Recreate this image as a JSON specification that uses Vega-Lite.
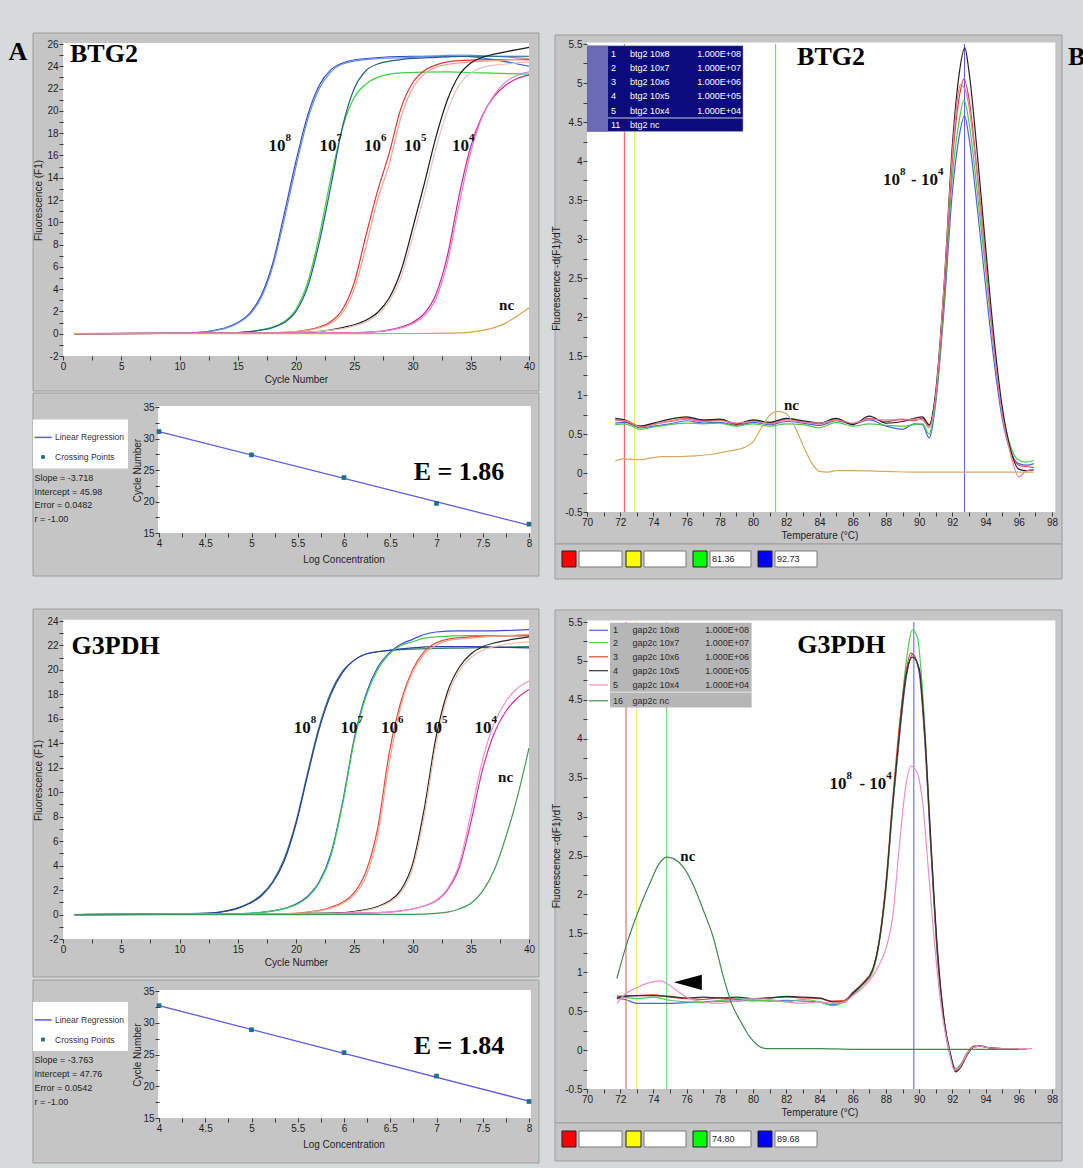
{
"$schema": "https://vega.github.io/schema/vega-lite/v6.json",
"background": "#d6dadb",
"padding": 0,
"autosize": {"type": "pad"},
"spacing": 0,
"resolve": {"scale": {"color": "independent"}},
"config": {
 "view": {"stroke": null},
 "concat": {"spacing": 0},
 "axis": {"domain": false, "grid": false, "labelFont": "Liberation Sans Narrow, Arial Narrow, Liberation Sans, sans-serif", "labelFontSize": 10, "labelColor": "#1e1e1e", "titleFont": "Liberation Sans Narrow, Arial Narrow, Liberation Sans, sans-serif", "titleFontSize": 10, "titleFontWeight": "normal", "titleColor": "#1e1e1e", "tickColor": "#3a3a3a", "tickSize": 4, "labelPadding": 1, "titlePadding": 3, "labelOverlap": false, "labelFlush": false, "tickCount": 100}
},
"datasets": {
 "a1": [
  {"s":"8a","x":1,"y":0},{"s":"8a","x":5,"y":0.02},{"s":"8a","x":10,"y":0.05},{"s":"8a","x":12,"y":0.15},{"s":"8a","x":13,"y":0.3},{"s":"8a","x":14,"y":0.55},{"s":"8a","x":15,"y":1.0},{"s":"8a","x":16,"y":1.8},{"s":"8a","x":17,"y":3.4},{"s":"8a","x":18,"y":6.3},{"s":"8a","x":19,"y":10.8},{"s":"8a","x":20,"y":15.5},{"s":"8a","x":21,"y":19.6},{"s":"8a","x":22,"y":22.3},{"s":"8a","x":23,"y":23.7},{"s":"8a","x":24,"y":24.3},{"s":"8a","x":26,"y":24.7},{"s":"8a","x":30,"y":24.9},{"s":"8a","x":34,"y":24.9},{"s":"8a","x":37,"y":24.6},{"s":"8a","x":40,"y":24.0},
  {"s":"8b","x":1,"y":0},{"s":"8b","x":10,"y":0.05},{"s":"8b","x":12,"y":0.14},{"s":"8b","x":13,"y":0.28},{"s":"8b","x":14,"y":0.5},{"s":"8b","x":15,"y":0.95},{"s":"8b","x":16,"y":1.7},{"s":"8b","x":17,"y":3.2},{"s":"8b","x":18,"y":6.0},{"s":"8b","x":19,"y":10.3},{"s":"8b","x":20,"y":15.0},{"s":"8b","x":21,"y":19.2},{"s":"8b","x":22,"y":22.0},{"s":"8b","x":23,"y":23.5},{"s":"8b","x":24,"y":24.2},{"s":"8b","x":26,"y":24.6},{"s":"8b","x":30,"y":24.8},{"s":"8b","x":34,"y":25.0},{"s":"8b","x":37,"y":24.9},{"s":"8b","x":40,"y":24.7},
  {"s":"7a","x":1,"y":0},{"s":"7a","x":8,"y":0.02},{"s":"7a","x":12,"y":0.05},{"s":"7a","x":15,"y":0.1},{"s":"7a","x":16,"y":0.2},{"s":"7a","x":17,"y":0.35},{"s":"7a","x":18,"y":0.6},{"s":"7a","x":19,"y":1.1},{"s":"7a","x":20,"y":2.2},{"s":"7a","x":21,"y":4.6},{"s":"7a","x":22,"y":8.8},{"s":"7a","x":23,"y":14.0},{"s":"7a","x":24,"y":18.5},{"s":"7a","x":25,"y":21.2},{"s":"7a","x":26,"y":22.4},{"s":"7a","x":27,"y":23.0},{"s":"7a","x":29,"y":23.4},{"s":"7a","x":33,"y":23.5},{"s":"7a","x":36,"y":23.4},{"s":"7a","x":40,"y":23.3},
  {"s":"7b","x":1,"y":0},{"s":"7b","x":8,"y":0.02},{"s":"7b","x":12,"y":0.05},{"s":"7b","x":15,"y":0.1},{"s":"7b","x":16,"y":0.18},{"s":"7b","x":17,"y":0.32},{"s":"7b","x":18,"y":0.55},{"s":"7b","x":19,"y":1.0},{"s":"7b","x":20,"y":2.0},{"s":"7b","x":21,"y":4.2},{"s":"7b","x":22,"y":8.2},{"s":"7b","x":23,"y":13.3},{"s":"7b","x":24,"y":18.6},{"s":"7b","x":25,"y":22.0},{"s":"7b","x":26,"y":23.6},{"s":"7b","x":27,"y":24.2},{"s":"7b","x":29,"y":24.6},{"s":"7b","x":32,"y":24.8},{"s":"7b","x":36,"y":24.9},{"s":"7b","x":40,"y":24.9},
  {"s":"6a","x":1,"y":0},{"s":"6a","x":6,"y":0.03},{"s":"6a","x":12,"y":0.05},{"s":"6a","x":18,"y":0.1},{"s":"6a","x":20,"y":0.2},{"s":"6a","x":21,"y":0.35},{"s":"6a","x":22,"y":0.6},{"s":"6a","x":23,"y":1.1},{"s":"6a","x":24,"y":2.2},{"s":"6a","x":25,"y":4.6},{"s":"6a","x":26,"y":8.8},{"s":"6a","x":27,"y":12.8},{"s":"6a","x":28,"y":16.2},{"s":"6a","x":29,"y":20.2},{"s":"6a","x":30,"y":22.5},{"s":"6a","x":31,"y":23.6},{"s":"6a","x":32,"y":24.1},{"s":"6a","x":34,"y":24.5},{"s":"6a","x":37,"y":24.6},{"s":"6a","x":40,"y":24.6},
  {"s":"6b","x":1,"y":0},{"s":"6b","x":12,"y":0.05},{"s":"6b","x":18,"y":0.1},{"s":"6b","x":20,"y":0.18},{"s":"6b","x":21,"y":0.3},{"s":"6b","x":22,"y":0.52},{"s":"6b","x":23,"y":0.95},{"s":"6b","x":24,"y":1.9},{"s":"6b","x":25,"y":4.0},{"s":"6b","x":26,"y":7.8},{"s":"6b","x":27,"y":12.0},{"s":"6b","x":28,"y":15.2},{"s":"6b","x":29,"y":19.4},{"s":"6b","x":30,"y":22.0},{"s":"6b","x":31,"y":23.3},{"s":"6b","x":32,"y":23.9},{"s":"6b","x":34,"y":24.3},{"s":"6b","x":37,"y":24.5},{"s":"6b","x":40,"y":24.7},
  {"s":"5a","x":1,"y":0},{"s":"5a","x":12,"y":0.05},{"s":"5a","x":20,"y":0.1},{"s":"5a","x":23,"y":0.35},{"s":"5a","x":24,"y":0.55},{"s":"5a","x":25,"y":0.8},{"s":"5a","x":26,"y":1.2},{"s":"5a","x":27,"y":1.9},{"s":"5a","x":28,"y":3.2},{"s":"5a","x":29,"y":5.6},{"s":"5a","x":30,"y":9.4},{"s":"5a","x":31,"y":13.4},{"s":"5a","x":32,"y":17.6},{"s":"5a","x":33,"y":21.0},{"s":"5a","x":34,"y":23.2},{"s":"5a","x":35,"y":24.3},{"s":"5a","x":36,"y":24.8},{"s":"5a","x":38,"y":25.3},{"s":"5a","x":40,"y":25.7},
  {"s":"5b","x":1,"y":0},{"s":"5b","x":20,"y":0.1},{"s":"5b","x":24,"y":0.45},{"s":"5b","x":25,"y":0.7},{"s":"5b","x":26,"y":1.05},{"s":"5b","x":27,"y":1.7},{"s":"5b","x":28,"y":2.9},{"s":"5b","x":29,"y":5.0},{"s":"5b","x":30,"y":8.6},{"s":"5b","x":31,"y":12.4},{"s":"5b","x":32,"y":16.6},{"s":"5b","x":33,"y":20.0},{"s":"5b","x":34,"y":22.3},{"s":"5b","x":35,"y":23.4},{"s":"5b","x":36,"y":23.9},{"s":"5b","x":38,"y":24.2},{"s":"5b","x":40,"y":24.4},
  {"s":"4a","x":1,"y":0},{"s":"4a","x":20,"y":0.05},{"s":"4a","x":25,"y":0.1},{"s":"4a","x":27,"y":0.2},{"s":"4a","x":28,"y":0.35},{"s":"4a","x":29,"y":0.6},{"s":"4a","x":30,"y":1.0},{"s":"4a","x":31,"y":1.8},{"s":"4a","x":32,"y":3.5},{"s":"4a","x":33,"y":7.0},{"s":"4a","x":34,"y":12.4},{"s":"4a","x":35,"y":16.8},{"s":"4a","x":36,"y":19.6},{"s":"4a","x":37,"y":21.3},{"s":"4a","x":38,"y":22.3},{"s":"4a","x":39,"y":22.9},{"s":"4a","x":40,"y":23.2},
  {"s":"4b","x":1,"y":0},{"s":"4b","x":20,"y":0.05},{"s":"4b","x":25,"y":0.1},{"s":"4b","x":27,"y":0.18},{"s":"4b","x":28,"y":0.3},{"s":"4b","x":29,"y":0.52},{"s":"4b","x":30,"y":0.9},{"s":"4b","x":31,"y":1.6},{"s":"4b","x":32,"y":3.1},{"s":"4b","x":33,"y":6.4},{"s":"4b","x":34,"y":11.6},{"s":"4b","x":35,"y":16.3},{"s":"4b","x":36,"y":19.5},{"s":"4b","x":37,"y":21.4},{"s":"4b","x":38,"y":22.6},{"s":"4b","x":39,"y":23.2},{"s":"4b","x":40,"y":23.5},
  {"s":"nc","x":1,"y":0},{"s":"nc","x":10,"y":0},{"s":"nc","x":20,"y":0},{"s":"nc","x":30,"y":0.02},{"s":"nc","x":33,"y":0.05},{"s":"nc","x":35,"y":0.15},{"s":"nc","x":36,"y":0.3},{"s":"nc","x":37,"y":0.55},{"s":"nc","x":38,"y":0.95},{"s":"nc","x":39,"y":1.6},{"s":"nc","x":40,"y":2.3}
 ],
 "a2": [
  {"s":"8a","x":1,"y":0},{"s":"8a","x":10,"y":0.05},{"s":"8a","x":13,"y":0.15},{"s":"8a","x":14,"y":0.3},{"s":"8a","x":15,"y":0.55},{"s":"8a","x":16,"y":0.95},{"s":"8a","x":17,"y":1.6},{"s":"8a","x":18,"y":2.7},{"s":"8a","x":19,"y":4.6},{"s":"8a","x":20,"y":7.6},{"s":"8a","x":21,"y":11.6},{"s":"8a","x":22,"y":15.4},{"s":"8a","x":23,"y":18.2},{"s":"8a","x":24,"y":19.9},{"s":"8a","x":25,"y":20.8},{"s":"8a","x":26,"y":21.3},{"s":"8a","x":28,"y":21.6},{"s":"8a","x":30,"y":21.7},{"s":"8a","x":35,"y":21.8},{"s":"8a","x":40,"y":21.9},
  {"s":"8b","x":1,"y":0},{"s":"8b","x":10,"y":0.04},{"s":"8b","x":13,"y":0.13},{"s":"8b","x":14,"y":0.28},{"s":"8b","x":15,"y":0.5},{"s":"8b","x":16,"y":0.9},{"s":"8b","x":17,"y":1.5},{"s":"8b","x":18,"y":2.6},{"s":"8b","x":19,"y":4.4},{"s":"8b","x":20,"y":7.4},{"s":"8b","x":21,"y":11.4},{"s":"8b","x":22,"y":15.2},{"s":"8b","x":23,"y":18.0},{"s":"8b","x":24,"y":19.8},{"s":"8b","x":25,"y":20.8},{"s":"8b","x":26,"y":21.3},{"s":"8b","x":28,"y":21.6},{"s":"8b","x":30,"y":21.8},{"s":"8b","x":32,"y":21.9},{"s":"8b","x":35,"y":21.9},{"s":"8b","x":40,"y":21.8},
  {"s":"7a","x":1,"y":0},{"s":"7a","x":12,"y":0.05},{"s":"7a","x":16,"y":0.1},{"s":"7a","x":17,"y":0.18},{"s":"7a","x":18,"y":0.3},{"s":"7a","x":19,"y":0.5},{"s":"7a","x":20,"y":0.85},{"s":"7a","x":21,"y":1.5},{"s":"7a","x":22,"y":2.7},{"s":"7a","x":23,"y":5.0},{"s":"7a","x":24,"y":9.2},{"s":"7a","x":25,"y":14.4},{"s":"7a","x":26,"y":18.0},{"s":"7a","x":27,"y":20.2},{"s":"7a","x":28,"y":21.4},{"s":"7a","x":29,"y":22.1},{"s":"7a","x":30,"y":22.5},{"s":"7a","x":31,"y":22.9},{"s":"7a","x":32,"y":23.1},{"s":"7a","x":34,"y":23.2},{"s":"7a","x":37,"y":23.2},{"s":"7a","x":40,"y":23.3},
  {"s":"7b","x":1,"y":0},{"s":"7b","x":12,"y":0.05},{"s":"7b","x":16,"y":0.1},{"s":"7b","x":17,"y":0.17},{"s":"7b","x":18,"y":0.28},{"s":"7b","x":19,"y":0.48},{"s":"7b","x":20,"y":0.8},{"s":"7b","x":21,"y":1.4},{"s":"7b","x":22,"y":2.6},{"s":"7b","x":23,"y":4.8},{"s":"7b","x":24,"y":9.0},{"s":"7b","x":25,"y":14.2},{"s":"7b","x":26,"y":17.8},{"s":"7b","x":27,"y":20.0},{"s":"7b","x":28,"y":21.3},{"s":"7b","x":29,"y":22.0},{"s":"7b","x":30,"y":22.3},{"s":"7b","x":31,"y":22.6},{"s":"7b","x":32,"y":22.7},{"s":"7b","x":35,"y":22.8},{"s":"7b","x":40,"y":22.8},
  {"s":"6a","x":1,"y":0},{"s":"6a","x":15,"y":0.05},{"s":"6a","x":20,"y":0.1},{"s":"6a","x":21,"y":0.2},{"s":"6a","x":22,"y":0.35},{"s":"6a","x":23,"y":0.6},{"s":"6a","x":24,"y":1.0},{"s":"6a","x":25,"y":1.8},{"s":"6a","x":26,"y":3.5},{"s":"6a","x":27,"y":7.0},{"s":"6a","x":28,"y":13.2},{"s":"6a","x":29,"y":17.4},{"s":"6a","x":30,"y":20.0},{"s":"6a","x":31,"y":21.5},{"s":"6a","x":32,"y":22.2},{"s":"6a","x":33,"y":22.5},{"s":"6a","x":35,"y":22.7},{"s":"6a","x":40,"y":22.8},
  {"s":"6b","x":1,"y":0},{"s":"6b","x":15,"y":0.05},{"s":"6b","x":20,"y":0.1},{"s":"6b","x":21,"y":0.18},{"s":"6b","x":22,"y":0.3},{"s":"6b","x":23,"y":0.52},{"s":"6b","x":24,"y":0.9},{"s":"6b","x":25,"y":1.6},{"s":"6b","x":26,"y":3.1},{"s":"6b","x":27,"y":6.4},{"s":"6b","x":28,"y":12.4},{"s":"6b","x":29,"y":17.0},{"s":"6b","x":30,"y":19.8},{"s":"6b","x":31,"y":21.3},{"s":"6b","x":32,"y":22.0},{"s":"6b","x":33,"y":22.4},{"s":"6b","x":35,"y":22.6},{"s":"6b","x":40,"y":22.9},
  {"s":"5a","x":1,"y":0},{"s":"5a","x":18,"y":0.05},{"s":"5a","x":24,"y":0.15},{"s":"5a","x":25,"y":0.25},{"s":"5a","x":26,"y":0.4},{"s":"5a","x":27,"y":0.65},{"s":"5a","x":28,"y":1.1},{"s":"5a","x":29,"y":2.0},{"s":"5a","x":30,"y":4.1},{"s":"5a","x":31,"y":8.6},{"s":"5a","x":32,"y":14.4},{"s":"5a","x":33,"y":18.2},{"s":"5a","x":34,"y":20.2},{"s":"5a","x":35,"y":21.3},{"s":"5a","x":36,"y":21.9},{"s":"5a","x":37,"y":22.2},{"s":"5a","x":38,"y":22.4},{"s":"5a","x":40,"y":22.7},
  {"s":"5b","x":1,"y":0},{"s":"5b","x":18,"y":0.05},{"s":"5b","x":24,"y":0.12},{"s":"5b","x":25,"y":0.2},{"s":"5b","x":26,"y":0.35},{"s":"5b","x":27,"y":0.58},{"s":"5b","x":28,"y":1.0},{"s":"5b","x":29,"y":1.8},{"s":"5b","x":30,"y":3.7},{"s":"5b","x":31,"y":8.0},{"s":"5b","x":32,"y":13.8},{"s":"5b","x":33,"y":17.8},{"s":"5b","x":34,"y":19.9},{"s":"5b","x":35,"y":21.0},{"s":"5b","x":36,"y":21.6},{"s":"5b","x":37,"y":21.9},{"s":"5b","x":38,"y":22.1},{"s":"5b","x":40,"y":22.3},
  {"s":"4a","x":1,"y":0},{"s":"4a","x":20,"y":0.05},{"s":"4a","x":27,"y":0.15},{"s":"4a","x":29,"y":0.3},{"s":"4a","x":30,"y":0.45},{"s":"4a","x":31,"y":0.7},{"s":"4a","x":32,"y":1.1},{"s":"4a","x":33,"y":2.0},{"s":"4a","x":34,"y":3.8},{"s":"4a","x":35,"y":7.5},{"s":"4a","x":36,"y":11.8},{"s":"4a","x":37,"y":14.8},{"s":"4a","x":38,"y":16.6},{"s":"4a","x":39,"y":17.7},{"s":"4a","x":40,"y":18.4},
  {"s":"4b","x":1,"y":0},{"s":"4b","x":20,"y":0.05},{"s":"4b","x":27,"y":0.15},{"s":"4b","x":29,"y":0.3},{"s":"4b","x":30,"y":0.45},{"s":"4b","x":31,"y":0.72},{"s":"4b","x":32,"y":1.15},{"s":"4b","x":33,"y":2.1},{"s":"4b","x":34,"y":4.1},{"s":"4b","x":35,"y":8.2},{"s":"4b","x":36,"y":12.6},{"s":"4b","x":37,"y":15.6},{"s":"4b","x":38,"y":17.4},{"s":"4b","x":39,"y":18.5},{"s":"4b","x":40,"y":19.1},
  {"s":"nc","x":1,"y":0},{"s":"nc","x":20,"y":0},{"s":"nc","x":30,"y":0.02},{"s":"nc","x":32,"y":0.1},{"s":"nc","x":33,"y":0.2},{"s":"nc","x":34,"y":0.45},{"s":"nc","x":35,"y":0.9},{"s":"nc","x":36,"y":1.9},{"s":"nc","x":37,"y":3.6},{"s":"nc","x":38,"y":6.3},{"s":"nc","x":39,"y":9.6},{"s":"nc","x":40,"y":13.6}
 ],
 "m1": [
  {"s":"1","x":71.7,"y":0.64},{"s":"1","x":72.3,"y":0.65},{"s":"1","x":73.2,"y":0.58},{"s":"1","x":74,"y":0.6},{"s":"1","x":75,"y":0.63},{"s":"1","x":76,"y":0.67},{"s":"1","x":77,"y":0.64},{"s":"1","x":78,"y":0.65},{"s":"1","x":79,"y":0.61},{"s":"1","x":80,"y":0.65},{"s":"1","x":81,"y":0.62},{"s":"1","x":82,"y":0.66},{"s":"1","x":83,"y":0.64},{"s":"1","x":84,"y":0.61},{"s":"1","x":85,"y":0.67},{"s":"1","x":86,"y":0.63},{"s":"1","x":87,"y":0.68},{"s":"1","x":88,"y":0.6},{"s":"1","x":89,"y":0.56},{"s":"1","x":89.7,"y":0.63},{"s":"1","x":90.2,"y":0.62},{"s":"1","x":90.6,"y":0.45},{"s":"1","x":91,"y":0.9},{"s":"1","x":91.5,"y":2.1},{"s":"1","x":92,"y":3.6},{"s":"1","x":92.4,"y":4.3},{"s":"1","x":92.73,"y":4.58},{"s":"1","x":93,"y":4.3},{"s":"1","x":93.5,"y":3.4},{"s":"1","x":94,"y":2.4},{"s":"1","x":94.5,"y":1.45},{"s":"1","x":95,"y":0.7},{"s":"1","x":95.5,"y":0.28},{"s":"1","x":96,"y":0.12},{"s":"1","x":96.5,"y":0.1},{"s":"1","x":96.9,"y":0.12},
  {"s":"2","x":71.7,"y":0.62},{"s":"2","x":72.3,"y":0.63},{"s":"2","x":73.2,"y":0.56},{"s":"2","x":74,"y":0.59},{"s":"2","x":75,"y":0.62},{"s":"2","x":76,"y":0.64},{"s":"2","x":77,"y":0.63},{"s":"2","x":78,"y":0.64},{"s":"2","x":79,"y":0.6},{"s":"2","x":80,"y":0.63},{"s":"2","x":81,"y":0.6},{"s":"2","x":82,"y":0.63},{"s":"2","x":83,"y":0.62},{"s":"2","x":84,"y":0.58},{"s":"2","x":85,"y":0.65},{"s":"2","x":86,"y":0.6},{"s":"2","x":87,"y":0.63},{"s":"2","x":88,"y":0.61},{"s":"2","x":89,"y":0.6},{"s":"2","x":89.7,"y":0.62},{"s":"2","x":90.2,"y":0.63},{"s":"2","x":90.6,"y":0.5},{"s":"2","x":91,"y":0.95},{"s":"2","x":91.5,"y":2.2},{"s":"2","x":92,"y":3.8},{"s":"2","x":92.4,"y":4.5},{"s":"2","x":92.7,"y":4.78},{"s":"2","x":93,"y":4.5},{"s":"2","x":93.5,"y":3.6},{"s":"2","x":94,"y":2.6},{"s":"2","x":94.5,"y":1.6},{"s":"2","x":95,"y":0.8},{"s":"2","x":95.5,"y":0.35},{"s":"2","x":95.9,"y":0.18},{"s":"2","x":96.4,"y":0.14},{"s":"2","x":96.9,"y":0.16},
  {"s":"3","x":71.7,"y":0.68},{"s":"3","x":72.3,"y":0.66},{"s":"3","x":73.2,"y":0.6},{"s":"3","x":74,"y":0.63},{"s":"3","x":75,"y":0.66},{"s":"3","x":76,"y":0.7},{"s":"3","x":77,"y":0.67},{"s":"3","x":78,"y":0.68},{"s":"3","x":79,"y":0.62},{"s":"3","x":80,"y":0.67},{"s":"3","x":81,"y":0.64},{"s":"3","x":82,"y":0.69},{"s":"3","x":83,"y":0.66},{"s":"3","x":84,"y":0.63},{"s":"3","x":85,"y":0.69},{"s":"3","x":86,"y":0.63},{"s":"3","x":87,"y":0.7},{"s":"3","x":88,"y":0.66},{"s":"3","x":89,"y":0.69},{"s":"3","x":89.7,"y":0.67},{"s":"3","x":90.2,"y":0.7},{"s":"3","x":90.6,"y":0.6},{"s":"3","x":91,"y":1.0},{"s":"3","x":91.5,"y":2.3},{"s":"3","x":92,"y":4.0},{"s":"3","x":92.4,"y":4.8},{"s":"3","x":92.7,"y":5.05},{"s":"3","x":93,"y":4.8},{"s":"3","x":93.5,"y":3.85},{"s":"3","x":94,"y":2.75},{"s":"3","x":94.5,"y":1.65},{"s":"3","x":95,"y":0.8},{"s":"3","x":95.5,"y":0.3},{"s":"3","x":96,"y":0.1},{"s":"3","x":96.5,"y":0.08},{"s":"3","x":96.9,"y":0.07},
  {"s":"4","x":71.7,"y":0.7},{"s":"4","x":72.3,"y":0.68},{"s":"4","x":73.2,"y":0.6},{"s":"4","x":74,"y":0.64},{"s":"4","x":75,"y":0.69},{"s":"4","x":76,"y":0.72},{"s":"4","x":77,"y":0.68},{"s":"4","x":78,"y":0.69},{"s":"4","x":79,"y":0.63},{"s":"4","x":80,"y":0.68},{"s":"4","x":81,"y":0.65},{"s":"4","x":82,"y":0.7},{"s":"4","x":83,"y":0.67},{"s":"4","x":84,"y":0.64},{"s":"4","x":85,"y":0.7},{"s":"4","x":86,"y":0.62},{"s":"4","x":87,"y":0.73},{"s":"4","x":88,"y":0.64},{"s":"4","x":89,"y":0.66},{"s":"4","x":89.7,"y":0.7},{"s":"4","x":90.2,"y":0.72},{"s":"4","x":90.6,"y":0.62},{"s":"4","x":91,"y":1.05},{"s":"4","x":91.5,"y":2.4},{"s":"4","x":92,"y":4.2},{"s":"4","x":92.4,"y":5.1},{"s":"4","x":92.75,"y":5.45},{"s":"4","x":93,"y":5.15},{"s":"4","x":93.5,"y":4.1},{"s":"4","x":94,"y":2.9},{"s":"4","x":94.5,"y":1.75},{"s":"4","x":95,"y":0.85},{"s":"4","x":95.5,"y":0.3},{"s":"4","x":96,"y":0.05},{"s":"4","x":96.5,"y":0.03},{"s":"4","x":96.9,"y":0.04},
  {"s":"5","x":71.7,"y":0.67},{"s":"5","x":72.3,"y":0.67},{"s":"5","x":73.2,"y":0.59},{"s":"5","x":74,"y":0.62},{"s":"5","x":75,"y":0.67},{"s":"5","x":76,"y":0.69},{"s":"5","x":77,"y":0.66},{"s":"5","x":78,"y":0.67},{"s":"5","x":79,"y":0.64},{"s":"5","x":80,"y":0.66},{"s":"5","x":81,"y":0.63},{"s":"5","x":82,"y":0.68},{"s":"5","x":83,"y":0.65},{"s":"5","x":84,"y":0.64},{"s":"5","x":85,"y":0.68},{"s":"5","x":86,"y":0.64},{"s":"5","x":87,"y":0.69},{"s":"5","x":88,"y":0.68},{"s":"5","x":89,"y":0.68},{"s":"5","x":89.7,"y":0.69},{"s":"5","x":90.2,"y":0.68},{"s":"5","x":90.6,"y":0.58},{"s":"5","x":91,"y":1.0},{"s":"5","x":91.5,"y":2.4},{"s":"5","x":92,"y":4.1},{"s":"5","x":92.5,"y":4.98},{"s":"5","x":92.8,"y":4.9},{"s":"5","x":93,"y":4.7},{"s":"5","x":93.5,"y":3.8},{"s":"5","x":94,"y":2.7},{"s":"5","x":94.5,"y":1.6},{"s":"5","x":95,"y":0.75},{"s":"5","x":95.5,"y":0.25},{"s":"5","x":96,"y":-0.05},{"s":"5","x":96.4,"y":0.02},{"s":"5","x":96.9,"y":0.05},
  {"s":"11","x":71.7,"y":0.15},{"s":"11","x":72.2,"y":0.18},{"s":"11","x":73.2,"y":0.17},{"s":"11","x":73.8,"y":0.19},{"s":"11","x":74.5,"y":0.21},{"s":"11","x":75.5,"y":0.21},{"s":"11","x":76.5,"y":0.22},{"s":"11","x":77.5,"y":0.24},{"s":"11","x":78.5,"y":0.28},{"s":"11","x":79.5,"y":0.33},{"s":"11","x":80,"y":0.4},{"s":"11","x":80.5,"y":0.58},{"s":"11","x":81,"y":0.74},{"s":"11","x":81.5,"y":0.79},{"s":"11","x":82,"y":0.76},{"s":"11","x":82.5,"y":0.6},{"s":"11","x":83,"y":0.36},{"s":"11","x":83.5,"y":0.14},{"s":"11","x":84,"y":0.02},{"s":"11","x":84.5,"y":0.01},{"s":"11","x":85,"y":0.03},{"s":"11","x":86,"y":0.03},{"s":"11","x":88,"y":0.02},{"s":"11","x":90,"y":0.01},{"s":"11","x":93,"y":0.01},{"s":"11","x":96,"y":0.01},{"s":"11","x":96.9,"y":0.01}
 ],
 "m2": [
  {"s":"1","x":71.8,"y":0.66},{"s":"1","x":72.3,"y":0.65},{"s":"1","x":73,"y":0.6},{"s":"1","x":74,"y":0.6},{"s":"1","x":75,"y":0.6},{"s":"1","x":76,"y":0.61},{"s":"1","x":77,"y":0.62},{"s":"1","x":78,"y":0.63},{"s":"1","x":79,"y":0.63},{"s":"1","x":80,"y":0.64},{"s":"1","x":81,"y":0.63},{"s":"1","x":82,"y":0.64},{"s":"1","x":83,"y":0.63},{"s":"1","x":84,"y":0.62},{"s":"1","x":84.8,"y":0.58},{"s":"1","x":85.5,"y":0.63},{"s":"1","x":86,"y":0.72},{"s":"1","x":86.6,"y":0.84},{"s":"1","x":87.2,"y":1.02},{"s":"1","x":87.6,"y":1.4},{"s":"1","x":88,"y":2.1},{"s":"1","x":88.4,"y":3.1},{"s":"1","x":88.85,"y":4.1},{"s":"1","x":89.2,"y":4.75},{"s":"1","x":89.6,"y":5.08},{"s":"1","x":90,"y":4.85},{"s":"1","x":90.3,"y":4.1},{"s":"1","x":90.7,"y":2.6},{"s":"1","x":91.1,"y":1.2},{"s":"1","x":91.5,"y":0.35},{"s":"1","x":91.9,"y":-0.1},{"s":"1","x":92.2,"y":-0.25},{"s":"1","x":92.5,"y":-0.2},{"s":"1","x":92.9,"y":-0.05},{"s":"1","x":93.3,"y":0.04},{"s":"1","x":93.7,"y":0.05},{"s":"1","x":94.2,"y":0.03},{"s":"1","x":95,"y":0.02},{"s":"1","x":96,"y":0.02},{"s":"1","x":96.5,"y":0.02},
  {"s":"2","x":71.8,"y":0.7},{"s":"2","x":72.3,"y":0.68},{"s":"2","x":73,"y":0.66},{"s":"2","x":74,"y":0.68},{"s":"2","x":75,"y":0.64},{"s":"2","x":76,"y":0.62},{"s":"2","x":77,"y":0.61},{"s":"2","x":78,"y":0.64},{"s":"2","x":79,"y":0.66},{"s":"2","x":80,"y":0.63},{"s":"2","x":81,"y":0.64},{"s":"2","x":82,"y":0.62},{"s":"2","x":83,"y":0.65},{"s":"2","x":84,"y":0.62},{"s":"2","x":84.8,"y":0.57},{"s":"2","x":85.5,"y":0.62},{"s":"2","x":86,"y":0.7},{"s":"2","x":86.6,"y":0.83},{"s":"2","x":87.2,"y":1.0},{"s":"2","x":87.6,"y":1.38},{"s":"2","x":88,"y":2.05},{"s":"2","x":88.4,"y":3.1},{"s":"2","x":88.85,"y":4.2},{"s":"2","x":89.2,"y":4.95},{"s":"2","x":89.6,"y":5.4},{"s":"2","x":89.9,"y":5.3},{"s":"2","x":90.3,"y":4.3},{"s":"2","x":90.7,"y":2.7},{"s":"2","x":91.1,"y":1.25},{"s":"2","x":91.5,"y":0.38},{"s":"2","x":91.9,"y":-0.08},{"s":"2","x":92.2,"y":-0.24},{"s":"2","x":92.5,"y":-0.18},{"s":"2","x":92.9,"y":-0.03},{"s":"2","x":93.3,"y":0.05},{"s":"2","x":93.7,"y":0.05},{"s":"2","x":94.2,"y":0.03},{"s":"2","x":95,"y":0.02},{"s":"2","x":96,"y":0.02},{"s":"2","x":96.5,"y":0.02},
  {"s":"3","x":71.8,"y":0.68},{"s":"3","x":72.3,"y":0.7},{"s":"3","x":73,"y":0.7},{"s":"3","x":74,"y":0.71},{"s":"3","x":75,"y":0.68},{"s":"3","x":76,"y":0.66},{"s":"3","x":77,"y":0.65},{"s":"3","x":78,"y":0.67},{"s":"3","x":79,"y":0.65},{"s":"3","x":80,"y":0.66},{"s":"3","x":81,"y":0.67},{"s":"3","x":82,"y":0.68},{"s":"3","x":83,"y":0.67},{"s":"3","x":84,"y":0.66},{"s":"3","x":84.8,"y":0.63},{"s":"3","x":85.5,"y":0.64},{"s":"3","x":86,"y":0.74},{"s":"3","x":86.6,"y":0.86},{"s":"3","x":87.2,"y":1.04},{"s":"3","x":87.6,"y":1.42},{"s":"3","x":88,"y":2.15},{"s":"3","x":88.4,"y":3.2},{"s":"3","x":88.85,"y":4.25},{"s":"3","x":89.2,"y":4.85},{"s":"3","x":89.5,"y":5.1},{"s":"3","x":90,"y":4.9},{"s":"3","x":90.3,"y":4.15},{"s":"3","x":90.7,"y":2.65},{"s":"3","x":91.1,"y":1.25},{"s":"3","x":91.5,"y":0.38},{"s":"3","x":91.9,"y":-0.08},{"s":"3","x":92.2,"y":-0.27},{"s":"3","x":92.5,"y":-0.2},{"s":"3","x":92.9,"y":-0.04},{"s":"3","x":93.3,"y":0.05},{"s":"3","x":93.7,"y":0.05},{"s":"3","x":94.2,"y":0.03},{"s":"3","x":95,"y":0.02},{"s":"3","x":96,"y":0.02},{"s":"3","x":96.5,"y":0.02},
  {"s":"4","x":71.8,"y":0.67},{"s":"4","x":72.3,"y":0.69},{"s":"4","x":73,"y":0.7},{"s":"4","x":74,"y":0.7},{"s":"4","x":75,"y":0.69},{"s":"4","x":76,"y":0.67},{"s":"4","x":77,"y":0.68},{"s":"4","x":78,"y":0.67},{"s":"4","x":79,"y":0.68},{"s":"4","x":80,"y":0.66},{"s":"4","x":81,"y":0.67},{"s":"4","x":82,"y":0.69},{"s":"4","x":83,"y":0.68},{"s":"4","x":84,"y":0.67},{"s":"4","x":84.8,"y":0.62},{"s":"4","x":85.5,"y":0.62},{"s":"4","x":86,"y":0.73},{"s":"4","x":86.6,"y":0.85},{"s":"4","x":87.2,"y":1.03},{"s":"4","x":87.6,"y":1.4},{"s":"4","x":88,"y":2.1},{"s":"4","x":88.4,"y":3.15},{"s":"4","x":88.85,"y":4.15},{"s":"4","x":89.2,"y":4.8},{"s":"4","x":89.6,"y":5.05},{"s":"4","x":90,"y":4.9},{"s":"4","x":90.3,"y":4.2},{"s":"4","x":90.7,"y":2.7},{"s":"4","x":91.1,"y":1.3},{"s":"4","x":91.5,"y":0.4},{"s":"4","x":91.9,"y":-0.06},{"s":"4","x":92.2,"y":-0.28},{"s":"4","x":92.5,"y":-0.22},{"s":"4","x":92.9,"y":-0.06},{"s":"4","x":93.3,"y":0.04},{"s":"4","x":93.7,"y":0.05},{"s":"4","x":94.2,"y":0.03},{"s":"4","x":95,"y":0.02},{"s":"4","x":96,"y":0.02},{"s":"4","x":96.5,"y":0.02},
  {"s":"5","x":71.8,"y":0.6},{"s":"5","x":72.3,"y":0.72},{"s":"5","x":73,"y":0.8},{"s":"5","x":73.8,"y":0.87},{"s":"5","x":74.4,"y":0.89},{"s":"5","x":75,"y":0.83},{"s":"5","x":75.5,"y":0.75},{"s":"5","x":76,"y":0.68},{"s":"5","x":77,"y":0.62},{"s":"5","x":78,"y":0.6},{"s":"5","x":79,"y":0.63},{"s":"5","x":80,"y":0.66},{"s":"5","x":81,"y":0.65},{"s":"5","x":82,"y":0.62},{"s":"5","x":83,"y":0.6},{"s":"5","x":84,"y":0.62},{"s":"5","x":84.8,"y":0.6},{"s":"5","x":85.5,"y":0.62},{"s":"5","x":86,"y":0.7},{"s":"5","x":86.6,"y":0.8},{"s":"5","x":87.2,"y":0.95},{"s":"5","x":87.6,"y":1.1},{"s":"5","x":88,"y":1.3},{"s":"5","x":88.4,"y":1.7},{"s":"5","x":88.8,"y":2.6},{"s":"5","x":89.2,"y":3.4},{"s":"5","x":89.5,"y":3.65},{"s":"5","x":89.9,"y":3.55},{"s":"5","x":90.2,"y":3.2},{"s":"5","x":90.6,"y":2.2},{"s":"5","x":91,"y":1.2},{"s":"5","x":91.4,"y":0.45},{"s":"5","x":91.8,"y":0},{"s":"5","x":92.1,"y":-0.25},{"s":"5","x":92.4,"y":-0.23},{"s":"5","x":92.8,"y":-0.08},{"s":"5","x":93.2,"y":0.03},{"s":"5","x":93.6,"y":0.05},{"s":"5","x":94.2,"y":0.03},{"s":"5","x":95,"y":0.02},{"s":"5","x":96,"y":0.02},{"s":"5","x":96.8,"y":0.02},
  {"s":"16","x":71.8,"y":0.92},{"s":"16","x":72.3,"y":1.3},{"s":"16","x":72.8,"y":1.62},{"s":"16","x":73.3,"y":1.9},{"s":"16","x":73.8,"y":2.15},{"s":"16","x":74.3,"y":2.38},{"s":"16","x":74.8,"y":2.48},{"s":"16","x":75.3,"y":2.45},{"s":"16","x":75.8,"y":2.35},{"s":"16","x":76.4,"y":2.12},{"s":"16","x":77,"y":1.8},{"s":"16","x":77.6,"y":1.45},{"s":"16","x":78.2,"y":0.95},{"s":"16","x":78.7,"y":0.6},{"s":"16","x":79.3,"y":0.35},{"s":"16","x":79.8,"y":0.17},{"s":"16","x":80.3,"y":0.06},{"s":"16","x":80.8,"y":0.02},{"s":"16","x":82,"y":0.02},{"s":"16","x":84,"y":0.02},{"s":"16","x":86,"y":0.01},{"s":"16","x":88,"y":0.01},{"s":"16","x":90,"y":0.01},{"s":"16","x":92,"y":0.01},{"s":"16","x":94,"y":0.01},{"s":"16","x":96,"y":0.01}
 ],
 "s1p": [{"x":4,"y":31.1},{"x":5,"y":27.4},{"x":6,"y":23.8},{"x":7,"y":19.7},{"x":8,"y":16.4}],
 "s1r": [{"x":4,"y":31.1},{"x":8,"y":16.25}],
 "s2p": [{"x":4,"y":32.7},{"x":5,"y":28.9},{"x":6,"y":25.3},{"x":7,"y":21.6},{"x":8,"y":17.6}],
 "s2r": [{"x":4,"y":32.7},{"x":8,"y":17.65}],
 "a1lab": [{"x":19.099,"y":16.846,"b":"10","e":"8"},{"x":23.476,"y":16.846,"b":"10","e":"7"},{"x":27.296,"y":16.846,"b":"10","e":"6"},{"x":30.73,"y":16.846,"b":"10","e":"5"},{"x":34.85,"y":16.846,"b":"10","e":"4"}],
 "a2lab": [{"x":21.262,"y":15.25,"b":"10","e":"8"},{"x":25.288,"y":15.25,"b":"10","e":"7"},{"x":28.755,"y":15.25,"b":"10","e":"6"},{"x":32.524,"y":15.25,"b":"10","e":"5"},{"x":36.79,"y":15.25,"b":"10","e":"4"}],
 "m1lab": [{"x":88.8474,"y":3.7564,"b":"10","e":"8"},{"x":91.1355,"y":3.7564,"b":"- 10","e":"4"}],
 "m2lab": [{"x":85.632,"y":3.4186,"b":"10","e":"8"},{"x":88.0226,"y":3.4186,"b":"- 10","e":"4"}],
 "m1leg": [{"y":5.3718,"n":"1","nm":"btg2 10x8","v":"1.000E+08"},{"y":5.1923,"n":"2","nm":"btg2 10x7","v":"1.000E+07"},{"y":5.0128,"n":"3","nm":"btg2 10x6","v":"1.000E+06"},{"y":4.8333,"n":"4","nm":"btg2 10x5","v":"1.000E+05"},{"y":4.6474,"n":"5","nm":"btg2 10x4","v":"1.000E+04"},{"y":4.4615,"n":"11","nm":"btg2 nc","v":""}],
 "m2leg": [{"y":5.3934,"n":"1","nm":"gap2c 10x8","v":"1.000E+08"},{"y":5.2366,"n":"2","nm":"gap2c 10x7","v":"1.000E+07"},{"y":5.0529,"n":"3","nm":"gap2c 10x6","v":"1.000E+06"},{"y":4.8743,"n":"4","nm":"gap2c 10x5","v":"1.000E+05"},{"y":4.6919,"n":"5","nm":"gap2c 10x4","v":"1.000E+04"},{"y":4.4876,"n":"16","nm":"gap2c nc","v":""}]
},
"hconcat": [
 {"vconcat": [
  {"width": 466, "height": 312, "layer": [
   {"data":{"values":[{}]},"mark":{"type":"rect","fill":"#d6dadb"},"encoding":{"x":{"datum":-5.4077},"x2":{"datum":41.4592},"y":{"datum":29.9487},"y2":{"datum":-5.1859}}},
   {"data":{"values":[{}]},"mark":{"type":"rect","fill":"#c5c5c5","stroke":"#9c9c9c","strokeWidth":1},"encoding":{"x":{"datum":-2.5751},"x2":{"datum":40.8584},"y":{"datum":26.9872},"y2":{"datum":-5.141}}},
   {"data":{"values":[{}]},"mark":{"type":"rect","fill":"#ffffff"},"encoding":{"x":{"datum":0},"x2":{"datum":40},"y":{"datum":-2},"y2":{"datum":26.1}}},
   {"data":{"name":"a1"},"mark":{"type":"line","interpolate":"monotone","strokeWidth":1.2},"encoding":{
     "x":{"field":"x","type":"quantitative","scale":{"domain":[0,40],"nice":false,"zero":false},"axis":{"zindex":1,"tickCount":100,"labelOverlap":false,"title":"Cycle Number","format":"~g","values":[0,2.5,5,7.5,10,12.5,15,17.5,20,22.5,25,27.5,30,32.5,35,37.5,40],"labelExpr":"datum.value % 5 === 0 ? replace(datum.label, '−', '-') : ''"}},
     "y":{"field":"y","type":"quantitative","scale":{"domain":[-2,26],"nice":false,"zero":false},"axis":{"zindex":1,"tickCount":100,"labelOverlap":false,"title":"Fluorescence (F1)","format":"~g","values":[-2,-1,0,1,2,3,4,5,6,7,8,9,10,11,12,13,14,15,16,17,18,19,20,21,22,23,24,25,26],"labelExpr":"datum.value % 2 === 0 ? replace(datum.label, '−', '-') : ''"}},
     "color":{"field":"s","type":"nominal","scale":{"domain":["8a","8b","7a","7b","6a","6b","5a","5b","4a","4b","nc"],"range":["#2f4fc8","#6a8ae8","#3ed03e","#1f5f8a","#e03535","#eca58e","#1a1a1a","#e9c3b6","#d0259e","#e27ccd","#d6a24a"]},"legend":null}}},
   {"data":{"name":"a1lab"},"mark":{"type":"text","align":"right","baseline":"middle","font":"Liberation Serif","fontWeight":"bold","fontSize":17,"color":"#111111"},"encoding":{"x":{"field":"x","type":"quantitative"},"y":{"field":"y","type":"quantitative"},"text":{"field":"b","type":"nominal"}}},
   {"data":{"name":"a1lab"},"mark":{"type":"text","align":"left","baseline":"middle","dx":0,"dy":-8,"font":"Liberation Serif","fontWeight":"bold","fontSize":11,"color":"#111111"},"encoding":{"x":{"field":"x","type":"quantitative"},"y":{"field":"y","type":"quantitative"},"text":{"field":"e","type":"nominal"}}},
   {"data":{"values":[{}]},"mark":{"type":"text","text":"nc","align":"center","baseline":"middle","font":"Liberation Serif","fontWeight":"bold","fontSize":15,"color":"#111111"},"encoding":{"x":{"datum":38.077},"y":{"datum":2.577}}},
   {"data":{"values":[{}]},"mark":{"type":"text","text":"BTG2","align":"left","baseline":"middle","font":"Liberation Serif","fontWeight":"bold","fontSize":26,"color":"#000000"},"encoding":{"x":{"datum":0.6009},"y":{"datum":25.1026}}},
   {"data":{"values":[{}]},"mark":{"type":"text","text":"A","align":"center","baseline":"middle","font":"Liberation Serif","fontWeight":"bold","fontSize":26,"color":"#000000"},"encoding":{"x":{"datum":-3.8627},"y":{"datum":25.282}}}
  ]},
  {"width": 466, "height": 126, "layer": [
   {"data":{"values":[{}]},"mark":{"type":"rect","fill":"#d6dadb"},"encoding":{"x":{"datum":2.2811},"x2":{"datum":8.1838},"y":{"datum":37.3016},"y2":{"datum":5.6349}}},
   {"data":{"values":[{}]},"mark":{"type":"rect","fill":"#c5c5c5","stroke":"#9c9c9c","strokeWidth":1},"encoding":{"x":{"datum":2.6378},"x2":{"datum":8.1081},"y":{"datum":37.2222},"y2":{"datum":8.1746}}},
   {"data":{"values":[{}]},"mark":{"type":"rect","fill":"#ffffff"},"encoding":{"x":{"datum":3.99},"x2":{"datum":8.02},"y":{"datum":15},"y2":{"datum":35.15}}},
   {"data":{"values":[{}]},"mark":{"type":"rect","fill":"#ffffff"},"encoding":{"x":{"datum":2.6378},"x2":{"datum":3.6649},"y":{"datum":33.0317},"y2":{"datum":25.2381}}},
   {"data":{"name":"s1r"},"mark":{"type":"line","color":"#5b5be0","strokeWidth":1.3},"encoding":{
     "x":{"field":"x","type":"quantitative","scale":{"domain":[2.962162,8],"nice":false,"zero":false},"axis":{"zindex":1,"tickCount":100,"labelOverlap":false,"title":null,"format":"~g","values":[4,4.25,4.5,4.75,5,5.25,5.5,5.75,6,6.25,6.5,6.75,7,7.25,7.5,7.75,8],"labelExpr":"datum.value % 0.5 === 0 ? datum.label : ''"}},
     "y":{"field":"y","type":"quantitative","scale":{"domain":[15,35],"nice":false,"zero":false},"axis":{"zindex":1,"tickCount":100,"labelOverlap":false,"offset":-96,"title":"Cycle Number","titlePadding":0,"format":"~g","values":[15,17.5,20,22.5,25,27.5,30,32.5,35],"labelExpr":"datum.value % 5 === 0 ? datum.label : ''"}}}},
   {"data":{"name":"s1p"},"mark":{"type":"point","shape":"square","filled":true,"color":"#1d6f8c","size":22,"opacity":1},"encoding":{"x":{"field":"x","type":"quantitative"},"y":{"field":"y","type":"quantitative"}}},
   {"data":{"values":[{}]},"mark":{"type":"rule","color":"#5b5be0","strokeWidth":1.5},"encoding":{"x":{"datum":2.6541},"x2":{"datum":2.84},"y":{"datum":30.1746}}},
   {"data":{"values":[{}]},"mark":{"type":"point","shape":"square","filled":true,"color":"#1d6f8c","size":14,"opacity":1},"encoding":{"x":{"datum":2.7459},"y":{"datum":27.0635}}},
   {"data":{"values":[{}]},"mark":{"type":"text","text":"Linear Regression","align":"left","baseline":"middle","font":"Liberation Sans Narrow, Arial Narrow, Liberation Sans, sans-serif","fontSize":8.5,"color":"#333333"},"encoding":{"x":{"datum":2.8757},"y":{"datum":30.1746}}},
   {"data":{"values":[{}]},"mark":{"type":"text","text":"Crossing Points","align":"left","baseline":"middle","font":"Liberation Sans Narrow, Arial Narrow, Liberation Sans, sans-serif","fontSize":8.5,"color":"#333333"},"encoding":{"x":{"datum":2.8757},"y":{"datum":27.0635}}},
   {"data":{"values":[{}]},"mark":{"type":"text","text":["Slope = -3.718","Intercept = 45.98","Error = 0.0482","r = -1.00"],"lineHeight":13.5,"align":"left","baseline":"top","font":"Liberation Sans Narrow, Arial Narrow, Liberation Sans, sans-serif","fontSize":9,"color":"#222222"},"encoding":{"x":{"datum":2.6541},"y":{"datum":24.3175}}},
   {"data":{"values":[{}]},"mark":{"type":"text","text":"Log Concentration","align":"center","baseline":"middle","font":"Liberation Sans Narrow, Arial Narrow, Liberation Sans, sans-serif","fontSize":10,"color":"#1e1e1e"},"encoding":{"x":{"datum":6},"y":{"datum":10.714}}},
   {"data":{"values":[{}]},"mark":{"type":"text","text":"E = 1.86","align":"center","baseline":"middle","font":"Liberation Serif","fontWeight":"bold","fontSize":26,"color":"#000000"},"encoding":{"x":{"datum":7.2432},"y":{"datum":24.7143}}}
  ]},
  {"width": 466, "height": 318, "layer": [
   {"data":{"values":[{}]},"mark":{"type":"rect","fill":"#d6dadb"},"encoding":{"x":{"datum":-5.4077},"x2":{"datum":41.4592},"y":{"datum":26.2893},"y2":{"datum":-5.1886}}},
   {"data":{"values":[{}]},"mark":{"type":"rect","fill":"#c5c5c5","stroke":"#9c9c9c","strokeWidth":1},"encoding":{"x":{"datum":-2.5751},"x2":{"datum":40.8584},"y":{"datum":24.9811},"y2":{"datum":-5.1069}}},
   {"data":{"values":[{}]},"mark":{"type":"rect","fill":"#ffffff"},"encoding":{"x":{"datum":0},"x2":{"datum":40},"y":{"datum":-2},"y2":{"datum":24.1}}},
   {"data":{"name":"a2"},"mark":{"type":"line","interpolate":"monotone","strokeWidth":1.2},"encoding":{
     "x":{"field":"x","type":"quantitative","scale":{"domain":[0,40],"nice":false,"zero":false},"axis":{"zindex":1,"tickCount":100,"labelOverlap":false,"title":"Cycle Number","format":"~g","values":[0,2.5,5,7.5,10,12.5,15,17.5,20,22.5,25,27.5,30,32.5,35,37.5,40],"labelExpr":"datum.value % 5 === 0 ? replace(datum.label, '−', '-') : ''"}},
     "y":{"field":"y","type":"quantitative","scale":{"domain":[-2,24],"nice":false,"zero":false},"axis":{"zindex":1,"tickCount":100,"labelOverlap":false,"title":"Fluorescence (F1)","format":"~g","values":[-2,-1,0,1,2,3,4,5,6,7,8,9,10,11,12,13,14,15,16,17,18,19,20,21,22,23,24],"labelExpr":"datum.value % 2 === 0 ? replace(datum.label, '−', '-') : ''"}},
     "color":{"field":"s","type":"nominal","scale":{"domain":["8a","8b","7a","7b","6a","6b","5a","5b","4a","4b","nc"],"range":["#2d7d6e","#2c3c9c","#3a4ed0","#3ccc58","#e04a3a","#efa690","#262626","#efc0ae","#d02fa8","#ea92d2","#3d9a55"]},"legend":null}}},
   {"data":{"name":"a2lab"},"mark":{"type":"text","align":"right","baseline":"middle","font":"Liberation Serif","fontWeight":"bold","fontSize":17,"color":"#111111"},"encoding":{"x":{"field":"x","type":"quantitative"},"y":{"field":"y","type":"quantitative"},"text":{"field":"b","type":"nominal"}}},
   {"data":{"name":"a2lab"},"mark":{"type":"text","align":"left","baseline":"middle","dx":0,"dy":-8,"font":"Liberation Serif","fontWeight":"bold","fontSize":11,"color":"#111111"},"encoding":{"x":{"field":"x","type":"quantitative"},"y":{"field":"y","type":"quantitative"},"text":{"field":"e","type":"nominal"}}},
   {"data":{"values":[{}]},"mark":{"type":"text","text":"nc","align":"center","baseline":"middle","font":"Liberation Serif","fontWeight":"bold","fontSize":15,"color":"#111111"},"encoding":{"x":{"datum":37.991},"y":{"datum":11.2045}}},
   {"data":{"values":[{}]},"mark":{"type":"text","text":"G3PDH","align":"left","baseline":"middle","font":"Liberation Serif","fontWeight":"bold","fontSize":26,"color":"#000000"},"encoding":{"x":{"datum":0.7382},"y":{"datum":21.9805}}}
  ]},
  {"width": 466, "height": 127, "layer": [
   {"data":{"values":[{}]},"mark":{"type":"rect","fill":"#d6dadb"},"encoding":{"x":{"datum":2.2811},"x2":{"datum":8.1838},"y":{"datum":36.8898},"y2":{"datum":6.6535}}},
   {"data":{"values":[{}]},"mark":{"type":"rect","fill":"#c5c5c5","stroke":"#9c9c9c","strokeWidth":1},"encoding":{"x":{"datum":2.6378},"x2":{"datum":8.1081},"y":{"datum":36.7323},"y2":{"datum":7.9134}}},
   {"data":{"values":[{}]},"mark":{"type":"rect","fill":"#ffffff"},"encoding":{"x":{"datum":3.99},"x2":{"datum":8.02},"y":{"datum":15},"y2":{"datum":35.15}}},
   {"data":{"values":[{}]},"mark":{"type":"rect","fill":"#ffffff"},"encoding":{"x":{"datum":2.6378},"x2":{"datum":3.6649},"y":{"datum":33.2677},"y2":{"datum":25.5512}}},
   {"data":{"name":"s2r"},"mark":{"type":"line","color":"#5b5be0","strokeWidth":1.3},"encoding":{
     "x":{"field":"x","type":"quantitative","scale":{"domain":[2.962162,8],"nice":false,"zero":false},"axis":{"zindex":1,"tickCount":100,"labelOverlap":false,"title":null,"format":"~g","values":[4,4.25,4.5,4.75,5,5.25,5.5,5.75,6,6.25,6.5,6.75,7,7.25,7.5,7.75,8],"labelExpr":"datum.value % 0.5 === 0 ? datum.label : ''"}},
     "y":{"field":"y","type":"quantitative","scale":{"domain":[15,35],"nice":false,"zero":false},"axis":{"zindex":1,"tickCount":100,"labelOverlap":false,"offset":-96,"title":"Cycle Number","titlePadding":0,"format":"~g","values":[15,17.5,20,22.5,25,27.5,30,32.5,35],"labelExpr":"datum.value % 5 === 0 ? datum.label : ''"}}}},
   {"data":{"name":"s2p"},"mark":{"type":"point","shape":"square","filled":true,"color":"#1d6f8c","size":22,"opacity":1},"encoding":{"x":{"field":"x","type":"quantitative"},"y":{"field":"y","type":"quantitative"}}},
   {"data":{"values":[{}]},"mark":{"type":"rule","color":"#5b5be0","strokeWidth":1.5},"encoding":{"x":{"datum":2.6541},"x2":{"datum":2.84},"y":{"datum":30.4488}}},
   {"data":{"values":[{}]},"mark":{"type":"point","shape":"square","filled":true,"color":"#1d6f8c","size":14,"opacity":1},"encoding":{"x":{"datum":2.7459},"y":{"datum":27.3622}}},
   {"data":{"values":[{}]},"mark":{"type":"text","text":"Linear Regression","align":"left","baseline":"middle","font":"Liberation Sans Narrow, Arial Narrow, Liberation Sans, sans-serif","fontSize":8.5,"color":"#333333"},"encoding":{"x":{"datum":2.8757},"y":{"datum":30.4488}}},
   {"data":{"values":[{}]},"mark":{"type":"text","text":"Crossing Points","align":"left","baseline":"middle","font":"Liberation Sans Narrow, Arial Narrow, Liberation Sans, sans-serif","fontSize":8.5,"color":"#333333"},"encoding":{"x":{"datum":2.8757},"y":{"datum":27.3622}}},
   {"data":{"values":[{}]},"mark":{"type":"text","text":["Slope = -3.763","Intercept = 47.76","Error = 0.0542","r = -1.00"],"lineHeight":14,"align":"left","baseline":"top","font":"Liberation Sans Narrow, Arial Narrow, Liberation Sans, sans-serif","fontSize":9,"color":"#222222"},"encoding":{"x":{"datum":2.6541},"y":{"datum":24.7953}}},
   {"data":{"values":[{}]},"mark":{"type":"text","text":"Log Concentration","align":"center","baseline":"middle","font":"Liberation Sans Narrow, Arial Narrow, Liberation Sans, sans-serif","fontSize":10,"color":"#1e1e1e"},"encoding":{"x":{"datum":6},"y":{"datum":10.748}}},
   {"data":{"values":[{}]},"mark":{"type":"text","text":"E = 1.84","align":"center","baseline":"middle","font":"Liberation Serif","fontWeight":"bold","fontSize":26,"color":"#000000"},"encoding":{"x":{"datum":7.2432},"y":{"datum":26.3386}}}
  ]}
 ], "spacing": 0, "resolve": {"scale": {"color": "independent"}}},
 {"vconcat": [
  {"width": 465, "height": 468, "layer": [
   {"data":{"values":[{}]},"mark":{"type":"rect","fill":"#d6dadb"},"encoding":{"x":{"datum":67.6516},"x2":{"datum":99.9871},"y":{"datum":6.0385},"y2":{"datum":-1.5385}}},
   {"data":{"values":[{}]},"mark":{"type":"rect","fill":"#c5c5c5","stroke":"#9c9c9c","strokeWidth":1},"encoding":{"x":{"datum":68.0731},"x2":{"datum":98.6022},"y":{"datum":5.6154},"y2":{"datum":-0.9103}}},
   {"data":{"values":[{}]},"mark":{"type":"rect","fill":"#c5c5c5","stroke":"#9c9c9c","strokeWidth":1},"encoding":{"x":{"datum":68.0731},"x2":{"datum":98.6022},"y":{"datum":-0.9103},"y2":{"datum":-1.359}}},
   {"data":{"values":[{}]},"mark":{"type":"rect","fill":"#ffffff"},"encoding":{"x":{"datum":70},"x2":{"datum":98.2},"y":{"datum":-0.5},"y2":{"datum":5.52}}},
   {"data":{"values":[{}]},"mark":{"type":"rule","color":"#f05050","strokeWidth":1},"encoding":{"x":{"datum":72.25}}},
   {"data":{"values":[{}]},"mark":{"type":"rule","color":"#e8e840","strokeWidth":1},"encoding":{"x":{"datum":72.85}}},
   {"data":{"values":[{}]},"mark":{"type":"rule","color":"#50d850","strokeWidth":1},"encoding":{"x":{"datum":81.36}}},
   {"data":{"values":[{}]},"mark":{"type":"rule","color":"#5a5af0","strokeWidth":1},"encoding":{"x":{"datum":92.73}}},
   {"data":{"name":"m1"},"mark":{"type":"line","interpolate":"monotone","strokeWidth":1.2},"encoding":{
     "x":{"field":"x","type":"quantitative","scale":{"domain":[70,98],"nice":false,"zero":false},"axis":{"zindex":1,"tickCount":100,"labelOverlap":false,"title":"Temperature (°C)","format":"~g","values":[70,71,72,73,74,75,76,77,78,79,80,81,82,83,84,85,86,87,88,89,90,91,92,93,94,95,96,97,98],"labelExpr":"datum.value % 2 === 0 ? datum.label : ''"}},
     "y":{"field":"y","type":"quantitative","scale":{"domain":[-0.5,5.5],"nice":false,"zero":false},"axis":{"zindex":1,"tickCount":100,"labelOverlap":false,"title":"Fluorescence -d(F1)/dT","format":"~g","values":[-0.5,-0.25,0,0.25,0.5,0.75,1,1.25,1.5,1.75,2,2.25,2.5,2.75,3,3.25,3.5,3.75,4,4.25,4.5,4.75,5,5.25,5.5],"labelExpr":"datum.value % 0.5 === 0 ? replace(datum.label, '−', '-') : ''"}},
     "color":{"field":"s","type":"nominal","scale":{"domain":["1","2","3","4","5","11"],"range":["#4a64d8","#44cc44","#e04040","#222222","#f07898","#d9a860"]},"legend":null}}},
   {"data":{"values":[{}]},"mark":{"type":"rect","fill":"#0b0b7d","stroke":"#b0b0d8","strokeWidth":0.5},"encoding":{"x":{"datum":70},"x2":{"datum":79.3935},"y":{"datum":5.4782},"y2":{"datum":4.3795}}},
   {"data":{"values":[{}]},"mark":{"type":"rect","fill":"#6a6ab4"},"encoding":{"x":{"datum":70},"x2":{"datum":71.2645},"y":{"datum":5.4782},"y2":{"datum":4.3795}}},
   {"data":{"values":[{}]},"mark":{"type":"rule","color":"#c8c8ec","strokeWidth":1},"encoding":{"x":{"datum":71.2645},"x2":{"datum":79.3935},"y":{"datum":4.5513}}},
   {"data":{"name":"m1leg"},"mark":{"type":"text","align":"left","baseline":"middle","font":"Liberation Sans Narrow, Arial Narrow, Liberation Sans, sans-serif","fontSize":9,"color":"#ffffff"},"encoding":{"x":{"datum":71.4452},"y":{"field":"y","type":"quantitative"},"text":{"field":"n","type":"nominal"}}},
   {"data":{"name":"m1leg"},"mark":{"type":"text","align":"left","baseline":"middle","font":"Liberation Sans Narrow, Arial Narrow, Liberation Sans, sans-serif","fontSize":9,"color":"#ffffff"},"encoding":{"x":{"datum":72.5892},"y":{"field":"y","type":"quantitative"},"text":{"field":"nm","type":"nominal"}}},
   {"data":{"name":"m1leg"},"mark":{"type":"text","align":"right","baseline":"middle","font":"Liberation Sans Narrow, Arial Narrow, Liberation Sans, sans-serif","fontSize":9,"color":"#ffffff"},"encoding":{"x":{"datum":79.273},"y":{"field":"y","type":"quantitative"},"text":{"field":"v","type":"nominal"}}},
   {"data":{"values":[{}]},"mark":{"type":"rect","fill":"#ff0000","stroke":"#202020","strokeWidth":1},"encoding":{"x":{"datum":68.4946},"x2":{"datum":69.3376},"y":{"datum":-1.0},"y2":{"datum":-1.2051}}},
   {"data":{"values":[{}]},"mark":{"type":"rect","fill":"#ffffff","stroke":"#7a7a7a","strokeWidth":1},"encoding":{"x":{"datum":69.5183},"x2":{"datum":72.1075},"y":{"datum":-1.0},"y2":{"datum":-1.2051}}},
   {"data":{"values":[{}]},"mark":{"type":"rect","fill":"#ffff00","stroke":"#202020","strokeWidth":1},"encoding":{"x":{"datum":72.3484},"x2":{"datum":73.2516},"y":{"datum":-1.0},"y2":{"datum":-1.2051}}},
   {"data":{"values":[{}]},"mark":{"type":"rect","fill":"#ffffff","stroke":"#7a7a7a","strokeWidth":1},"encoding":{"x":{"datum":73.4323},"x2":{"datum":75.9613},"y":{"datum":-1.0},"y2":{"datum":-1.2051}}},
   {"data":{"values":[{}]},"mark":{"type":"rect","fill":"#00ff00","stroke":"#202020","strokeWidth":1},"encoding":{"x":{"datum":76.3828},"x2":{"datum":77.2258},"y":{"datum":-1.0},"y2":{"datum":-1.2051}}},
   {"data":{"values":[{}]},"mark":{"type":"rect","fill":"#ffffff","stroke":"#7a7a7a","strokeWidth":1},"encoding":{"x":{"datum":77.4065},"x2":{"datum":79.8753},"y":{"datum":-1.0},"y2":{"datum":-1.2051}}},
   {"data":{"values":[{}]},"mark":{"type":"rect","fill":"#0000ff","stroke":"#202020","strokeWidth":1},"encoding":{"x":{"datum":80.2968},"x2":{"datum":81.1398},"y":{"datum":-1.0},"y2":{"datum":-1.2051}}},
   {"data":{"values":[{}]},"mark":{"type":"rect","fill":"#ffffff","stroke":"#7a7a7a","strokeWidth":1},"encoding":{"x":{"datum":81.3204},"x2":{"datum":83.8495},"y":{"datum":-1.0},"y2":{"datum":-1.2051}}},
   {"data":{"values":[{}]},"mark":{"type":"text","text":"81.36","align":"left","baseline":"middle","font":"Liberation Sans Narrow, Arial Narrow, Liberation Sans, sans-serif","fontSize":9,"color":"#222222"},"encoding":{"x":{"datum":77.527},"y":{"datum":-1.1026}}},
   {"data":{"values":[{}]},"mark":{"type":"text","text":"92.73","align":"left","baseline":"middle","font":"Liberation Sans Narrow, Arial Narrow, Liberation Sans, sans-serif","fontSize":9,"color":"#222222"},"encoding":{"x":{"datum":81.441},"y":{"datum":-1.1026}}},
   {"data":{"name":"m1lab"},"mark":{"type":"text","align":"right","baseline":"middle","font":"Liberation Serif","fontWeight":"bold","fontSize":17,"color":"#111111"},"encoding":{"x":{"field":"x","type":"quantitative"},"y":{"field":"y","type":"quantitative"},"text":{"field":"b","type":"nominal"}}},
   {"data":{"name":"m1lab"},"mark":{"type":"text","align":"left","baseline":"middle","dx":0,"dy":-8,"font":"Liberation Serif","fontWeight":"bold","fontSize":11,"color":"#111111"},"encoding":{"x":{"field":"x","type":"quantitative"},"y":{"field":"y","type":"quantitative"},"text":{"field":"e","type":"nominal"}}},
   {"data":{"values":[{}]},"mark":{"type":"text","text":"nc","align":"center","baseline":"middle","font":"Liberation Serif","fontWeight":"bold","fontSize":15,"color":"#111111"},"encoding":{"x":{"datum":82.308},"y":{"datum":0.8718}}},
   {"data":{"values":[{}]},"mark":{"type":"text","text":"BTG2","align":"center","baseline":"middle","font":"Liberation Serif","fontWeight":"bold","fontSize":26,"color":"#000000"},"encoding":{"x":{"datum":84.6925},"y":{"datum":5.3282}}},
   {"data":{"values":[{}]},"mark":{"type":"text","text":"B","align":"left","baseline":"middle","font":"Liberation Serif","fontWeight":"bold","fontSize":26,"color":"#000000"},"encoding":{"x":{"datum":98.9634},"y":{"datum":5.3282}}}
  ]},
  {"width": 465, "height": 467, "layer": [
   {"data":{"values":[{}]},"mark":{"type":"rect","fill":"#d6dadb"},"encoding":{"x":{"datum":67.6516},"x2":{"datum":99.9871},"y":{"datum":5.8597},"y2":{"datum":-1.5535}}},
   {"data":{"values":[{}]},"mark":{"type":"rect","fill":"#c5c5c5","stroke":"#9c9c9c","strokeWidth":1},"encoding":{"x":{"datum":68.0731},"x2":{"datum":98.6022},"y":{"datum":5.6542},"y2":{"datum":-0.9368}}},
   {"data":{"values":[{}]},"mark":{"type":"rect","fill":"#c5c5c5","stroke":"#9c9c9c","strokeWidth":1},"encoding":{"x":{"datum":68.0731},"x2":{"datum":98.6022},"y":{"datum":-0.9368},"y2":{"datum":-1.425}}},
   {"data":{"values":[{}]},"mark":{"type":"rect","fill":"#ffffff"},"encoding":{"x":{"datum":70},"x2":{"datum":98.2},"y":{"datum":-0.5},"y2":{"datum":5.52}}},
   {"data":{"values":[{}]},"mark":{"type":"rule","color":"#f05050","strokeWidth":1},"encoding":{"x":{"datum":72.35}}},
   {"data":{"values":[{}]},"mark":{"type":"rule","color":"#e8e840","strokeWidth":1},"encoding":{"x":{"datum":73.0}}},
   {"data":{"values":[{}]},"mark":{"type":"rule","color":"#50d850","strokeWidth":1},"encoding":{"x":{"datum":74.8}}},
   {"data":{"values":[{}]},"mark":{"type":"rule","color":"#5a5af0","strokeWidth":1},"encoding":{"x":{"datum":89.68}}},
   {"data":{"name":"m2"},"mark":{"type":"line","interpolate":"monotone","strokeWidth":1.2},"encoding":{
     "x":{"field":"x","type":"quantitative","scale":{"domain":[70,98],"nice":false,"zero":false},"axis":{"zindex":1,"tickCount":100,"labelOverlap":false,"title":"Temperature (°C)","format":"~g","values":[70,71,72,73,74,75,76,77,78,79,80,81,82,83,84,85,86,87,88,89,90,91,92,93,94,95,96,97,98],"labelExpr":"datum.value % 2 === 0 ? datum.label : ''"}},
     "y":{"field":"y","type":"quantitative","scale":{"domain":[-0.5,5.5],"nice":false,"zero":false},"axis":{"zindex":1,"tickCount":100,"labelOverlap":false,"title":"Fluorescence -d(F1)/dT","format":"~g","values":[-0.5,-0.25,0,0.25,0.5,0.75,1,1.25,1.5,1.75,2,2.25,2.5,2.75,3,3.25,3.5,3.75,4,4.25,4.5,4.75,5,5.25,5.5],"labelExpr":"datum.value % 0.5 === 0 ? replace(datum.label, '−', '-') : ''"}},
     "color":{"field":"s","type":"nominal","scale":{"domain":["1","2","3","4","5","16"],"range":["#5060d8","#50d050","#d04a30","#303030","#f08cc8","#3d8a50"]},"legend":null}}},
   {"data":{"values":[{}]},"mark":{"type":"rect","fill":"#b6b6b6"},"encoding":{"x":{"datum":71.385},"x2":{"datum":79.9114},"y":{"datum":5.491},"y2":{"datum":4.4028}}},
   {"data":{"values":[{}]},"mark":{"type":"rule","color":"#e8e8e8","strokeWidth":1},"encoding":{"x":{"datum":71.385},"x2":{"datum":79.9114},"y":{"datum":4.5981}}},
   {"data":{"name":"m2leg"},"mark":{"type":"rule","strokeWidth":1.2},"encoding":{"x":{"datum":70.1204},"x2":{"datum":71.2645},"y":{"field":"y","type":"quantitative"},"color":{"field":"n","type":"nominal","legend":null}}},
   {"data":{"name":"m2leg"},"mark":{"type":"text","align":"left","baseline":"middle","font":"Liberation Sans Narrow, Arial Narrow, Liberation Sans, sans-serif","fontSize":9,"color":"#2a2a2a"},"encoding":{"x":{"datum":71.5656},"y":{"field":"y","type":"quantitative"},"text":{"field":"n","type":"nominal"}}},
   {"data":{"name":"m2leg"},"mark":{"type":"text","align":"left","baseline":"middle","font":"Liberation Sans Narrow, Arial Narrow, Liberation Sans, sans-serif","fontSize":9,"color":"#2a2a2a"},"encoding":{"x":{"datum":72.7458},"y":{"field":"y","type":"quantitative"},"text":{"field":"nm","type":"nominal"}}},
   {"data":{"name":"m2leg"},"mark":{"type":"text","align":"right","baseline":"middle","font":"Liberation Sans Narrow, Arial Narrow, Liberation Sans, sans-serif","fontSize":9,"color":"#2a2a2a"},"encoding":{"x":{"datum":79.755},"y":{"field":"y","type":"quantitative"},"text":{"field":"v","type":"nominal"}}},
   {"data":{"values":[{}]},"mark":{"type":"rect","fill":"#ff0000","stroke":"#202020","strokeWidth":1},"encoding":{"x":{"datum":68.4946},"x2":{"datum":69.3376},"y":{"datum":-1.0396},"y2":{"datum":-1.2452}}},
   {"data":{"values":[{}]},"mark":{"type":"rect","fill":"#ffffff","stroke":"#7a7a7a","strokeWidth":1},"encoding":{"x":{"datum":69.5183},"x2":{"datum":72.1075},"y":{"datum":-1.0396},"y2":{"datum":-1.2452}}},
   {"data":{"values":[{}]},"mark":{"type":"rect","fill":"#ffff00","stroke":"#202020","strokeWidth":1},"encoding":{"x":{"datum":72.3484},"x2":{"datum":73.2516},"y":{"datum":-1.0396},"y2":{"datum":-1.2452}}},
   {"data":{"values":[{}]},"mark":{"type":"rect","fill":"#ffffff","stroke":"#7a7a7a","strokeWidth":1},"encoding":{"x":{"datum":73.4323},"x2":{"datum":75.9613},"y":{"datum":-1.0396},"y2":{"datum":-1.2452}}},
   {"data":{"values":[{}]},"mark":{"type":"rect","fill":"#00ff00","stroke":"#202020","strokeWidth":1},"encoding":{"x":{"datum":76.3828},"x2":{"datum":77.2258},"y":{"datum":-1.0396},"y2":{"datum":-1.2452}}},
   {"data":{"values":[{}]},"mark":{"type":"rect","fill":"#ffffff","stroke":"#7a7a7a","strokeWidth":1},"encoding":{"x":{"datum":77.4065},"x2":{"datum":79.8753},"y":{"datum":-1.0396},"y2":{"datum":-1.2452}}},
   {"data":{"values":[{}]},"mark":{"type":"rect","fill":"#0000ff","stroke":"#202020","strokeWidth":1},"encoding":{"x":{"datum":80.2968},"x2":{"datum":81.1398},"y":{"datum":-1.0396},"y2":{"datum":-1.2452}}},
   {"data":{"values":[{}]},"mark":{"type":"rect","fill":"#ffffff","stroke":"#7a7a7a","strokeWidth":1},"encoding":{"x":{"datum":81.3204},"x2":{"datum":83.8495},"y":{"datum":-1.0396},"y2":{"datum":-1.2452}}},
   {"data":{"values":[{}]},"mark":{"type":"text","text":"74.80","align":"left","baseline":"middle","font":"Liberation Sans Narrow, Arial Narrow, Liberation Sans, sans-serif","fontSize":9,"color":"#222222"},"encoding":{"x":{"datum":77.527},"y":{"datum":-1.1424}}},
   {"data":{"values":[{}]},"mark":{"type":"text","text":"89.68","align":"left","baseline":"middle","font":"Liberation Sans Narrow, Arial Narrow, Liberation Sans, sans-serif","fontSize":9,"color":"#222222"},"encoding":{"x":{"datum":81.441},"y":{"datum":-1.1424}}},
   {"data":{"name":"m2lab"},"mark":{"type":"text","align":"right","baseline":"middle","font":"Liberation Serif","fontWeight":"bold","fontSize":17,"color":"#111111"},"encoding":{"x":{"field":"x","type":"quantitative"},"y":{"field":"y","type":"quantitative"},"text":{"field":"b","type":"nominal"}}},
   {"data":{"name":"m2lab"},"mark":{"type":"text","align":"left","baseline":"middle","dx":0,"dy":-8,"font":"Liberation Serif","fontWeight":"bold","fontSize":11,"color":"#111111"},"encoding":{"x":{"field":"x","type":"quantitative"},"y":{"field":"y","type":"quantitative"},"text":{"field":"e","type":"nominal"}}},
   {"data":{"values":[{}]},"mark":{"type":"text","text":"nc","align":"center","baseline":"middle","font":"Liberation Serif","fontWeight":"bold","fontSize":15,"color":"#111111"},"encoding":{"x":{"datum":76.0697},"y":{"datum":2.4897}}},
   {"data":{"values":[{}]},"mark":{"type":"point","shape":"M-1,0L1,-0.55L1,0.55Z","filled":true,"color":"#000000","size":784,"opacity":1},"encoding":{"x":{"datum":76.07},"y":{"datum":0.87}}},
   {"data":{"values":[{}]},"mark":{"type":"text","text":"G3PDH","align":"center","baseline":"middle","font":"Liberation Serif","fontWeight":"bold","fontSize":26,"color":"#000000"},"encoding":{"x":{"datum":85.3188},"y":{"datum":5.2019}}}
  ]}
 ], "spacing": 0, "resolve": {"scale": {"color": "independent"}}}
]
}
